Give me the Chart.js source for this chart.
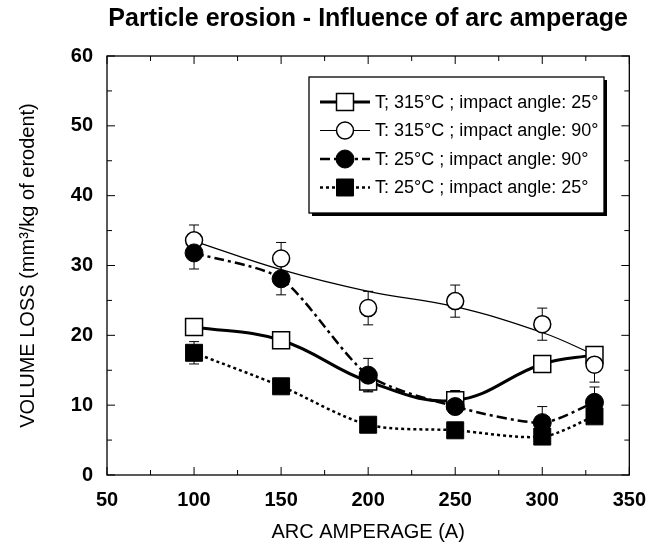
<!DOCTYPE html>
<html>
<head>
<meta charset="utf-8">
<script src="https://cdn.jsdelivr.net/npm/chart.js@4/dist/chart.umd.min.js"></script>
<style>
  body { margin: 0; background: #fff; }
  canvas { display: block; }
</style>
</head>
<body>
<canvas id="erosionChart" width="659" height="548"></canvas>
<script>
// data
const amps = [100, 150, 200, 250, 300, 330];
const labels = [
    'T; 315°C ; impact angle: 25°',
    'T: 315°C ; impact angle: 90°',
    'T: 25°C ; impact angle: 90°',
    'T: 25°C ; impact angle: 25°'
];
const hot25 = [21.2, 19.3, 13.4, 10.7, 15.9, 17.2];
const hot90 = [33.6, 31.0, 23.9, 24.9, 21.6, 15.8];
const hot90Fit = [33.5, 29.4, 26.3, 24.1, 20.4, 17.2];
const cold90 = [31.8, 28.1, 14.3, 9.8, 7.5, 10.4];
const cold25 = [17.5, 12.7, 7.2, 6.4, 5.5, 8.4];
// error bars (+/-), null where none shows
const hot25Err = [null, null, 1.4, 1.4, null, null];
const hot90Err = [2.2, 2.3, 2.4, 2.3, 2.3, 2.5];
const cold90Err = [2.3, 2.3, 2.4, null, 2.3, 2.2];
const cold25Err = [1.6, null, null, null, null, null];
const xTicks = [50, 100, 150, 200, 250, 300, 350];
const yTicks = [0, 10, 20, 30, 40, 50, 60];

const FONT = "'Liberation Sans', Arial, sans-serif";

function pts(vals) {
    return amps.map((a, i) => ({ x: a, y: vals[i] }));
}

// frame + inward ticks on all four sides
const frameTicks = {
    id: 'frameTicks',
    beforeDatasetsDraw(chart) {
        const { ctx, chartArea: a, scales: { x, y } } = chart;
        ctx.save();
        ctx.strokeStyle = '#000';
        ctx.lineWidth = 1.3;
        ctx.strokeRect(a.left, a.top, a.right - a.left, a.bottom - a.top);
        ctx.lineWidth = 1;
        ctx.beginPath();
        for (let v = xTicks[0]; v <= xTicks[xTicks.length - 1]; v += 25) {
            const px = x.getPixelForValue(v);
            const len = v % 50 === 0 ? 8 : 5;
            ctx.moveTo(px, a.bottom); ctx.lineTo(px, a.bottom - len);
            ctx.moveTo(px, a.top); ctx.lineTo(px, a.top + len);
        }
        for (let v = yTicks[0]; v <= yTicks[yTicks.length - 1]; v += 5) {
            const py = y.getPixelForValue(v);
            const len = v % 10 === 0 ? 8 : 5;
            ctx.moveTo(a.left, py); ctx.lineTo(a.left + len, py);
            ctx.moveTo(a.right, py); ctx.lineTo(a.right - len, py);
        }
        ctx.stroke();

        // error bars
        const sets = [[hot25, hot25Err], [hot90, hot90Err], [cold90, cold90Err], [cold25, cold25Err]];
        ctx.beginPath();
        sets.forEach(([vals, errs]) => {
            vals.forEach((v, i) => {
                if (errs[i] == null) return;
                const px = x.getPixelForValue(amps[i]);
                const top = y.getPixelForValue(v + errs[i]);
                const bot = y.getPixelForValue(v - errs[i]);
                ctx.moveTo(px, top); ctx.lineTo(px, bot);
                ctx.moveTo(px - 5, top); ctx.lineTo(px + 5, top);
                ctx.moveTo(px - 5, bot); ctx.lineTo(px + 5, bot);
            });
        });
        ctx.stroke();
        ctx.restore();
    }
};

// boxed legend with drop shadow, line sample + marker
const boxLegend = {
    id: 'boxLegend',
    afterDraw(chart) {
        const { ctx } = chart;
        const L = 309, T = 77, R = 604, B = 213;
        ctx.save();
        ctx.fillStyle = '#000';
        ctx.fillRect(L + 3, T + 3, R - L, B - T);
        ctx.fillStyle = '#fff';
        ctx.fillRect(L, T, R - L, B - T);
        ctx.strokeStyle = '#000';
        ctx.lineWidth = 1.3;
        ctx.strokeRect(L, T, R - L, B - T);

        const rows = [
            { ds: 0, line: 3, dash: [] },
            { ds: 2, line: 1.2, dash: [] },
            { ds: 3, line: 2.5, dash: [10, 4, 3, 4] },
            { ds: 4, line: 2.5, dash: [3, 3] }
        ];
        rows.forEach((r, i) => {
            const cy = 102 + i * 28.5;
            const d = chart.data.datasets[r.ds];
            ctx.strokeStyle = '#000';
            ctx.lineWidth = r.line;
            ctx.setLineDash(r.dash);
            ctx.beginPath();
            ctx.moveTo(320, cy); ctx.lineTo(370, cy);
            ctx.stroke();
            ctx.setLineDash([]);
            ctx.fillStyle = d.pointBackgroundColor;
            ctx.lineWidth = d.pointBorderWidth;
            Chart.helpers.drawPoint(ctx, {
                pointStyle: d.pointStyle,
                radius: d.pointRadius,
                rotation: 0,
                borderWidth: d.pointBorderWidth
            }, 345, cy);
            ctx.fillStyle = '#000';
            ctx.font = '18px ' + FONT;
            ctx.textBaseline = 'middle';
            ctx.fillText(labels[i], 375, cy + 1);
        });
        ctx.restore();
    }
};

const ctx = document.getElementById('erosionChart').getContext('2d');
new Chart(ctx, {
    type: 'line',
    data: {
        datasets: [{
            label: labels[0],
            data: pts(hot25),
            borderColor: '#000',
            borderWidth: 3,
            tension: 0.4,
            pointStyle: 'rect',
            pointRadius: 12,
            pointBorderWidth: 1.5,
            pointBorderColor: '#000',
            pointBackgroundColor: '#fff',
            order: 3
        }, {
            label: 'fit',
            data: pts(hot90Fit),
            borderColor: '#000',
            borderWidth: 1.2,
            tension: 0.4,
            pointRadius: 0,
            order: 5
        }, {
            label: labels[1],
            data: pts(hot90),
            showLine: false,
            pointStyle: 'circle',
            pointRadius: 8.5,
            pointBorderWidth: 1.5,
            pointBorderColor: '#000',
            pointBackgroundColor: '#fff',
            order: 2
        }, {
            label: labels[2],
            data: pts(cold90),
            borderColor: '#000',
            borderWidth: 2.5,
            borderDash: [10, 4, 3, 4],
            tension: 0.25,
            pointStyle: 'circle',
            pointRadius: 9,
            pointBorderWidth: 1,
            pointBorderColor: '#000',
            pointBackgroundColor: '#000',
            order: 1
        }, {
            label: labels[3],
            data: pts(cold25),
            borderColor: '#000',
            borderWidth: 2.5,
            borderDash: [3, 3],
            tension: 0.3,
            pointStyle: 'rect',
            pointRadius: 12,
            pointBorderWidth: 1,
            pointBorderColor: '#000',
            pointBackgroundColor: '#000',
            order: 4
        }]
    },
    options: {
        responsive: false,
        animation: false,
        layout: { padding: { left: 0, right: 28, top: 0, bottom: 0 } },
        plugins: {
            legend: { display: false },
            tooltip: { enabled: false },
            title: {
                display: true,
                text: 'Particle erosion - Influence of arc amperage',
                fullSize: false,
                color: '#000',
                font: { family: FONT, size: 25, weight: 'bold' },
                padding: { top: 4, bottom: 22 }
            }
        },
        scales: {
            x: {
                type: 'linear',
                min: 50,
                max: 350,
                afterBuildTicks: s => { s.ticks = xTicks.map(v => ({ value: v })); },
                afterFit: s => { s.height = 73; },
                grid: { display: false, drawTicks: false },
                border: { display: false },
                ticks: {
                    color: '#000',
                    padding: 13,
                    font: { family: FONT, size: 20, weight: 'bold' }
                },
                title: {
                    display: true,
                    text: 'ARC AMPERAGE (A)',
                    color: '#000',
                    font: { family: FONT, size: 20 },
                    padding: { bottom: 4 }
                }
            },
            y: {
                min: 0,
                max: 60,
                afterBuildTicks: s => { s.ticks = yTicks.map(v => ({ value: v })); },
                afterFit: s => { s.width = 107; },
                grid: { display: false, drawTicks: false },
                border: { display: false },
                ticks: {
                    color: '#000',
                    padding: 14,
                    font: { family: FONT, size: 20, weight: 'bold' }
                },
                title: {
                    display: true,
                    text: 'VOLUME LOSS (mm³/kg of erodent)',
                    color: '#000',
                    font: { family: FONT, size: 20 },
                    padding: { top: 16 }
                }
            }
        }
    },
    plugins: [frameTicks, boxLegend]
});
</script>
</body>
</html>
